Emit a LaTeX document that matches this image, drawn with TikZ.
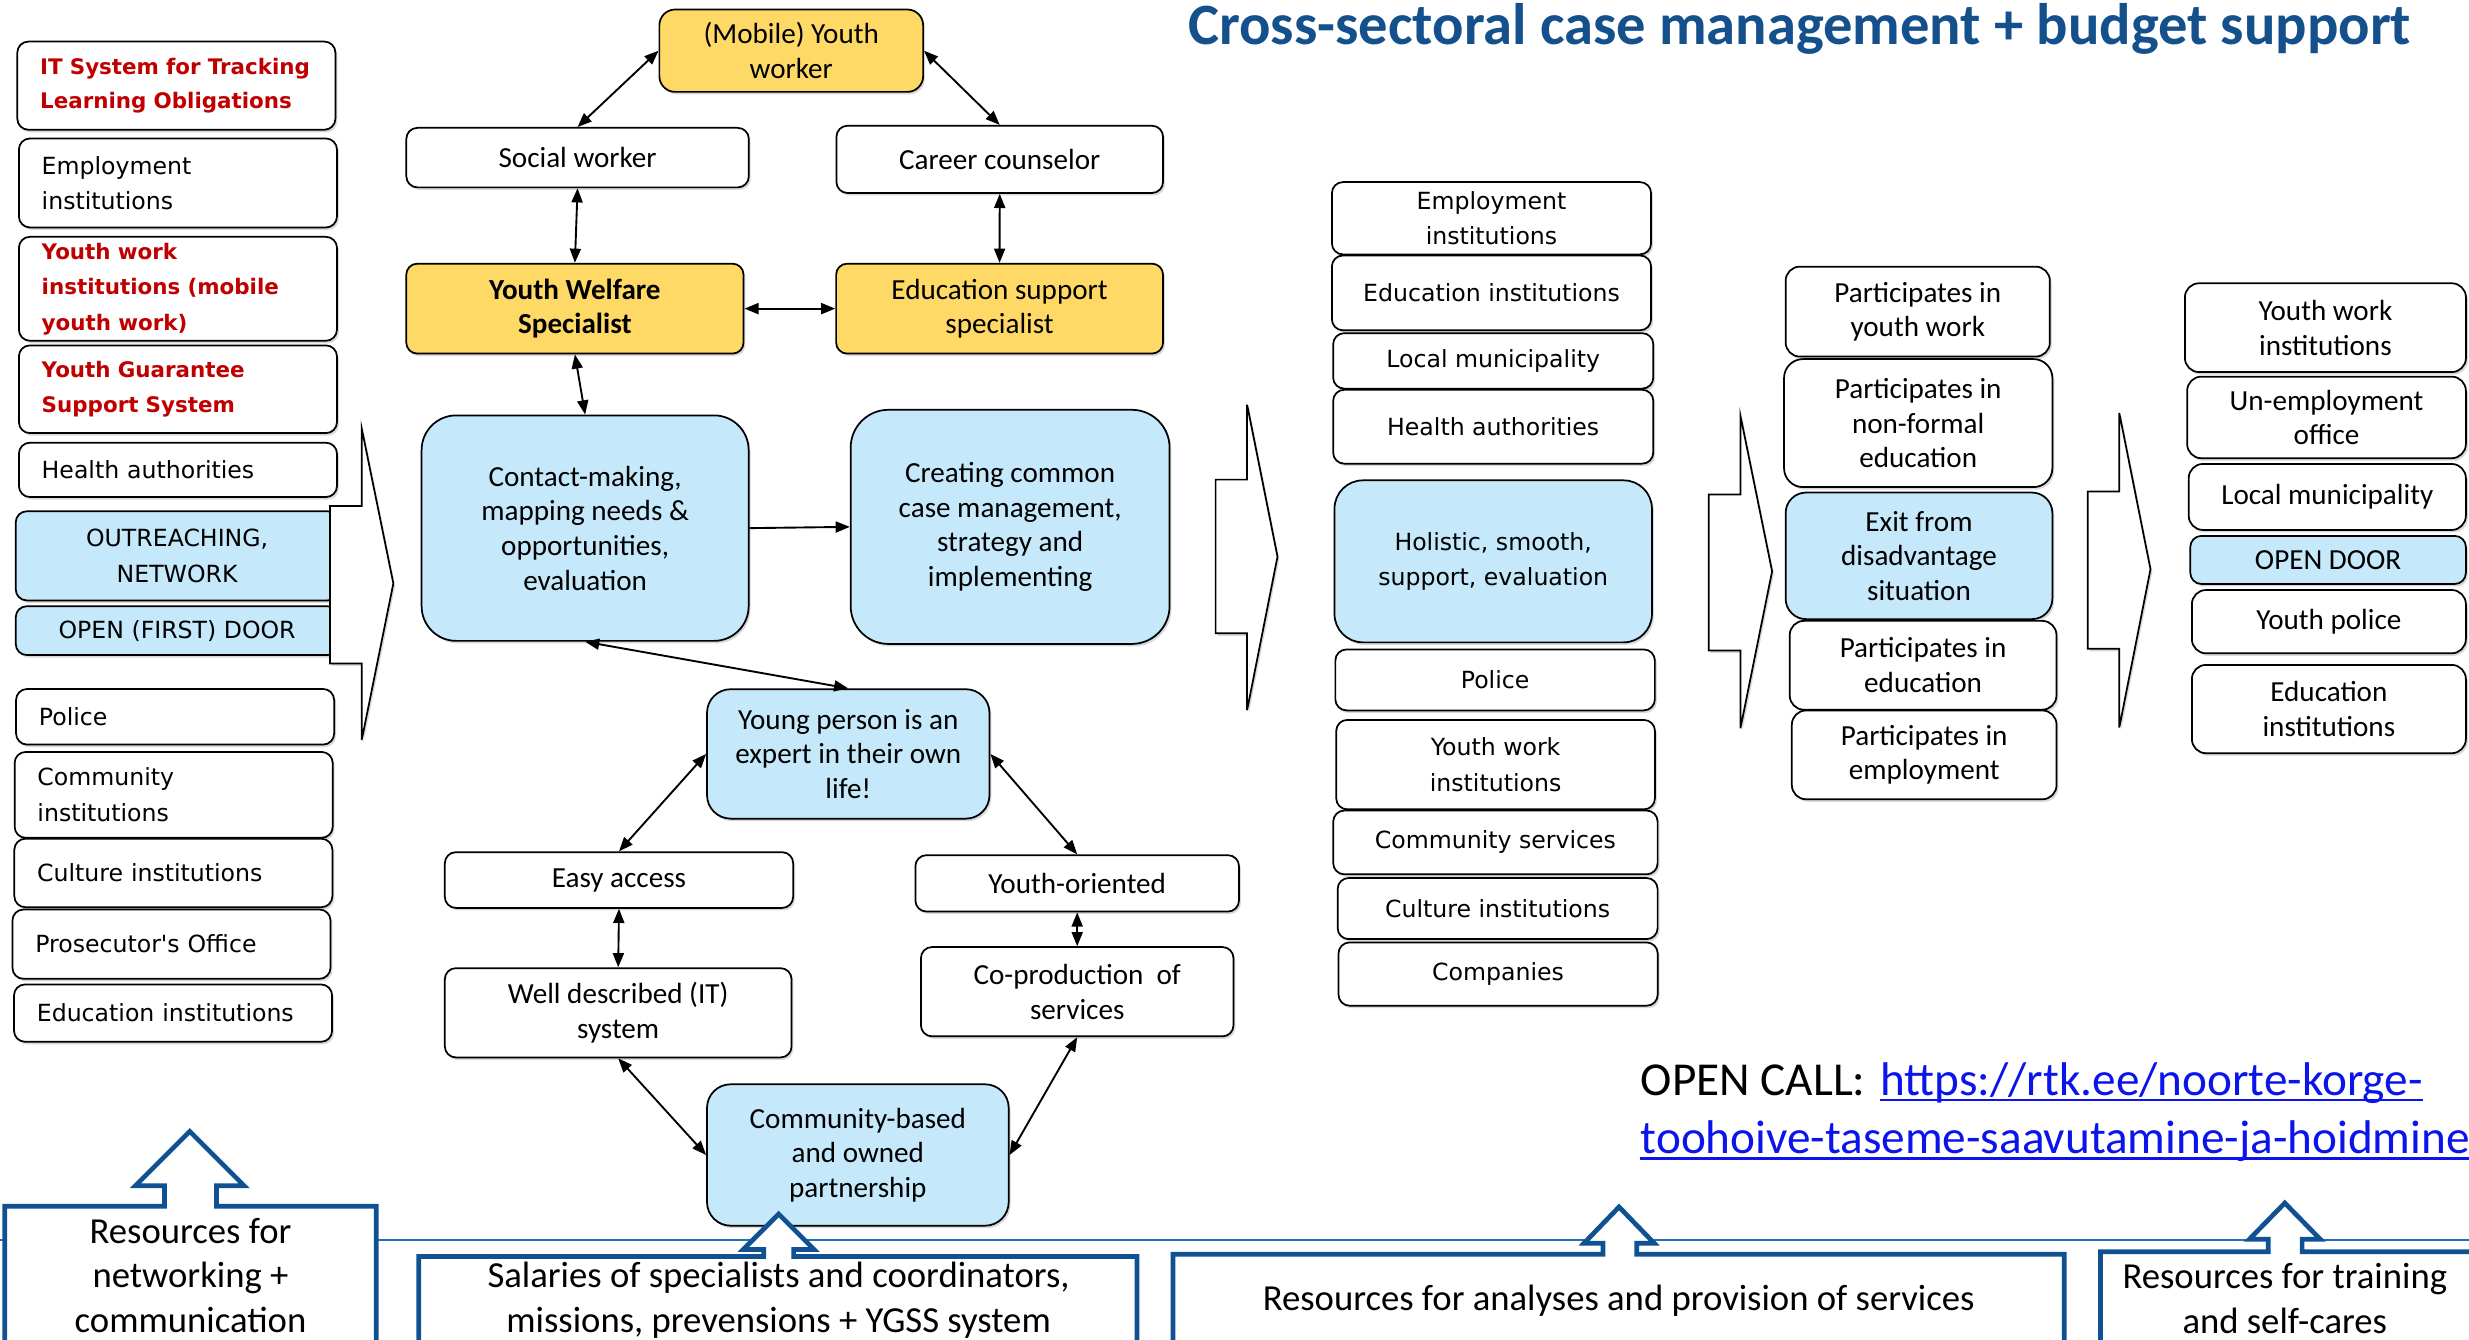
\documentclass[tikz,border=0pt]{standalone}
\usepackage{fontspec}
\setmainfont{Carlito}
\newfontfamily\verd{DejaVu Sans}
\usetikzlibrary{arrows.meta,shadows}
\definecolor{yfill}{RGB}{255,217,102}
\definecolor{bfill}{RGB}{197,233,250}
\definecolor{redtxt}{RGB}{192,0,0}
\definecolor{titleblue}{RGB}{20,80,140}
\definecolor{resblue}{RGB}{16,82,145}
\definecolor{lineblue}{RGB}{40,110,180}
\definecolor{linkblue}{RGB}{10,20,235}
\newcommand\mycal{\fontsize{18.5}{22}\selectfont}
\newcommand\myverd{\verd\fontsize{15}{22.5}\selectfont}
\newcommand\myred{\verd\bfseries\fontsize{13.6}{22}\selectfont}
\newcommand\myres{\fontsize{23.3}{28.5}\selectfont}
\tikzset{
  shad/.style={drop shadow={shadow xshift=1.2pt,shadow yshift=-1.6pt,opacity=0.3}},
  basebox/.style={draw=black,line width=1.1pt,rounded corners=7pt,inner sep=0pt,align=center,shad},
  wbox/.style={basebox,fill=white},
  ybox/.style={basebox,fill=yfill},
  bbox/.style={basebox,fill=bfill},
  lbox/.style={basebox,fill=white,align=left,inner xsep=14.5pt,inner ysep=0pt,text width=173pt},
  cf/.style={font=\mycal},
  vf/.style={font=\myverd},
  rf/.style={font=\myred,text=redtxt},
  dbl/.style={{Triangle[length=9pt,width=7pt]}-{Triangle[length=9pt,width=7pt]},line width=1.2pt},
  sgl/.style={-{Triangle[length=9pt,width=7pt]},line width=1.2pt},
  bigarrow/.style={draw=black,line width=1.1pt,fill=white,line join=miter,shad},
  resframe/.style={draw=resblue,line width=3pt,fill=white,line join=miter},
  restext/.style={font=\myres,align=center,inner sep=0pt},
}
\begin{document}
\begin{tikzpicture}[x=1pt,y=-1pt]
\useasboundingbox (0,0) rectangle (1568,851);
\fill[white] (0,0) rectangle (1568,851);

% title
\node[anchor=base west,inner sep=0pt,text=titleblue,font=\bfseries\fontsize{37.2}{44}\selectfont] (title) at (754.4,28) {Cross-sectoral case management + budget support};

% horizontal line
\draw[lineblue,line width=1.2pt] (0,787.5) -- (1568,787.5);

% left column
\node[lbox,rf,minimum height=56pt] (L1) at (112,54.4) {\mbox{IT System for Tracking}\\\mbox{Learning Obligations}};
\node[lbox,vf,minimum height=56.5pt] (L2) at (113,116.2) {Employment\\institutions};
\node[lbox,rf,minimum height=66pt,font=\verd\bfseries\fontsize{13.6}{22.5}\selectfont] (L3) at (113,183.4) {Youth work\\\mbox{institutions (mobile}\\youth work)};
\node[lbox,rf,minimum height=55.7pt] (L4) at (113,247.2) {Youth Guarantee\\Support System};
\node[lbox,vf,minimum height=34.5pt] (L5) at (113,298.4) {Health authorities};
\node[bbox,vf,minimum width=205pt,minimum height=56.6pt] (L6) at (112.5,353) {OUTREACHING,\\NETWORK};
\node[bbox,vf,minimum width=205pt,minimum height=31pt] (L7) at (112.5,400.5) {OPEN (FIRST) DOOR};
\node[lbox,vf,minimum height=35.3pt] (L8) at (111.2,455.2) {Police};
\node[lbox,vf,minimum height=54.5pt] (L9) at (110.3,504.8) {Community\\institutions};
\node[lbox,vf,minimum height=43.5pt] (L10) at (110.1,554.4) {Culture institutions};
\node[lbox,vf,minimum height=44pt] (L11) at (108.9,599.6) {Prosecutor\textquotesingle s Office};
\node[lbox,vf,minimum height=36.4pt] (L12) at (109.9,643.4) {Education institutions};

% left big arrow
\draw[bigarrow] (209.6,321.4) -- (229.7,321.4) -- (229.7,272) -- (249.8,370.5) -- (229.7,470) -- (229.7,421.3) -- (209.6,421.3) -- cycle;

% centre network
\node[ybox,cf,rounded corners=10pt,minimum width=167.5pt,minimum height=52.3pt] (myw) at (502.5,32.2) {(Mobile) Youth\\worker};
\node[wbox,cf,minimum width=217.5pt,minimum height=37.8pt] (sw) at (366.8,100.1) {Social worker};
\node[wbox,cf,minimum width=207.4pt,minimum height=42.7pt] (cc) at (634.9,101.2) {Career counselor};
\node[ybox,cf,minimum width=214.2pt,minimum height=57.1pt,font=\mycal\bfseries] (yws) at (365.1,196) {Youth Welfare\\Specialist};
\node[ybox,cf,minimum width=207.6pt,minimum height=57.1pt] (ess) at (634.8,196) {Education support\\specialist};
\node[bbox,cf,rounded corners=22pt,minimum width=207.7pt,minimum height=143.2pt] (contact) at (371.6,335.4) {Contact-making,\\mapping needs \&\\opportunities,\\evaluation};
\node[bbox,cf,rounded corners=24pt,minimum width=202.5pt,minimum height=148.7pt] (creating) at (641.5,334.6) {Creating common\\case management,\\strategy and\\implementing};
\node[bbox,cf,rounded corners=15pt,minimum width=179.4pt,minimum height=82.2pt] (yp) at (538.7,478.8) {Young person is an\\expert in their own\\life!};
\node[wbox,cf,minimum width=221.2pt,minimum height=35.4pt] (ea) at (393.1,558.9) {Easy access};
\node[wbox,cf,minimum width=205.5pt,minimum height=35.8pt] (yo) at (684.1,561) {Youth-oriented};
\node[wbox,cf,minimum width=220.2pt,minimum height=56.7pt] (wd) at (392.6,643.2) {Well described (IT)\\system};
\node[wbox,cf,minimum width=198.5pt,minimum height=56.7pt] (cp) at (684.1,629.8) {Co-production\ \ of\\services};
\node[bbox,cf,rounded corners=15pt,minimum width=191.6pt,minimum height=89.8pt] (cb) at (544.8,733.5) {Community-based\\and owned\\partnership};

\draw[dbl] (sw.north) -- (myw.west);
\draw[dbl] (cc.north) -- (myw.east);
\draw[dbl] (sw.south) -- (yws.north);
\draw[dbl] (cc.south) -- (ess.north);
\draw[dbl] (yws.east) -- (ess.west);
\draw[dbl] (yws.south) -- (contact.north);
\draw[sgl] (contact.east) -- (creating.west);
\draw[dbl] (contact.south) -- (yp.north);
\draw[dbl] (yp.west) -- (ea.north);
\draw[dbl] (yp.east) -- (yo.north);
\draw[dbl] (ea.south) -- (wd.north);
\draw[dbl] (yo.south) -- (cp.north);
\draw[dbl] (wd.south) -- (cb.west);
\draw[dbl] (cp.south) -- (cb.east);

% middle arrow
\draw[bigarrow] (772,304.6) -- (792,304.6) -- (792,257) -- (811.3,353.5) -- (792,451) -- (792,402.2) -- (772,402.2) -- cycle;

% middle column
\node[wbox,vf,minimum width=202.7pt,minimum height=45.9pt,font=\verd\fontsize{15}{22}\selectfont] (m1) at (947.2,138.6) {Employment\\institutions};
\node[wbox,vf,minimum width=202.7pt,minimum height=47.5pt] (m2) at (947.2,186) {Education institutions};
\node[wbox,vf,minimum width=203.3pt,minimum height=35.2pt] (m3) at (948.3,229.2) {Local municipality};
\node[wbox,vf,minimum width=203.3pt,minimum height=46.9pt] (m4) at (948.3,271) {Health authorities};
\node[bbox,vf,rounded corners=18pt,minimum width=201.6pt,minimum height=102.9pt] (m5) at (948.3,356.5) {Holistic, smooth,\\support, evaluation};
\node[wbox,vf,minimum width=202.9pt,minimum height=38.7pt] (m6) at (949.5,431.8) {Police};
\node[wbox,vf,minimum width=202.4pt,minimum height=56.8pt] (m7) at (949.8,485.6) {Youth work\\institutions};
\node[wbox,vf,minimum width=206pt,minimum height=40.5pt] (m8) at (949.7,535) {Community services};
\node[wbox,vf,minimum width=203.2pt,minimum height=38.8pt] (m9) at (951.1,577) {Culture institutions};
\node[wbox,vf,minimum width=202.7pt,minimum height=40.2pt] (m10) at (951.4,618.6) {Companies};

% third arrow
\draw[bigarrow] (1085.1,314) -- (1105.3,314) -- (1105.3,264) -- (1125.4,362.8) -- (1105.3,462.5) -- (1105.3,413.1) -- (1085.1,413.1) -- cycle;

% outcomes column
\node[wbox,cf,rounded corners=9pt,minimum width=167.8pt,minimum height=57.1pt] (r1) at (1217.9,197.9) {Participates in\\youth work};
\node[wbox,cf,rounded corners=12pt,minimum width=170.4pt,minimum height=81.3pt] (r2) at (1218.2,268.7) {Participates in\\non-formal\\education};
\node[bbox,cf,rounded corners=13pt,minimum width=169.4pt,minimum height=80.4pt] (r3) at (1218.7,353) {Exit from\\disadvantage\\situation};
\node[wbox,cf,rounded corners=9pt,minimum width=169.4pt,minimum height=56.4pt] (r4) at (1221.3,422.5) {Participates in\\education};
\node[wbox,cf,rounded corners=9pt,minimum width=168.1pt,minimum height=56.4pt] (r5) at (1222,479.4) {Participates in\\employment};

% fourth arrow
\draw[bigarrow] (1325.8,312.1) -- (1345.9,312.1) -- (1345.9,262.3) -- (1365.7,361.5) -- (1345.9,462) -- (1345.9,412) -- (1325.8,412) -- cycle;

% right column
\node[wbox,cf,rounded corners=9pt,minimum width=178.5pt,minimum height=56.4pt] (q1) at (1476.8,208.1) {Youth work\\institutions};
\node[wbox,cf,rounded corners=9pt,minimum width=177pt,minimum height=51.8pt] (q2) at (1477.5,265.1) {Un-employment\\office};
\node[wbox,cf,rounded corners=9pt,minimum width=176pt,minimum height=41.9pt] (q3) at (1478,315.6) {Local municipality};
\node[bbox,cf,rounded corners=7pt,minimum width=175pt,minimum height=30.5pt] (q4) at (1478.5,355.6) {OPEN DOOR};
\node[wbox,cf,rounded corners=9pt,minimum width=174pt,minimum height=40.2pt] (q5) at (1479,394.8) {Youth police};
\node[wbox,cf,rounded corners=9pt,minimum width=174pt,minimum height=56.1pt] (q6) at (1479,450.3) {Education\\institutions};

% open call
\node[anchor=base west,inner sep=0pt,font=\fontsize{30}{37}\selectfont] (oc) at (1041.8,695.7) {OPEN CALL:};
\node[anchor=base west,inner sep=0pt,font=\fontsize{30}{37}\selectfont,text=linkblue] (lk1) at (1194,695.7) {https://rtk.ee/noorte-korge-};
\node[anchor=base west,inner sep=0pt,font=\fontsize{30}{37}\selectfont,text=linkblue] (lk2) at (1041.8,732.7) {toohoive-taseme-saavutamine-ja-hoidmine};
\draw[linkblue,line width=1.6pt] ([yshift=-3pt]lk1.base west) -- ([yshift=-3pt]lk1.base east);
\draw[linkblue,line width=1.6pt] ([yshift=-3pt]lk2.base west) -- ([yshift=-3pt]lk2.base east);

% bottom resource frames with up arrows
\draw[resframe] (3,870) -- (3,766) -- (104.5,766) -- (104.5,753) -- (86,753) -- (120.5,718.5) -- (155,753) -- (137.5,753) -- (137.5,766) -- (239,766) -- (239,870) -- cycle;
\draw[resframe] (266,870) -- (266,798) -- (485,798) -- (485,793.5) -- (472,793.5) -- (494.5,771) -- (517,793.5) -- (504,793.5) -- (504,798) -- (722,798) -- (722,870) -- cycle;
\draw[resframe] (745,870) -- (745,796.5) -- (1018,796.5) -- (1018,789.5) -- (1006,789.5) -- (1028.2,766.5) -- (1050.5,789.5) -- (1039.5,789.5) -- (1039.5,796.5) -- (1311,796.5) -- (1311,870) -- cycle;
\draw[resframe] (1334,870) -- (1334,795) -- (1440.5,795) -- (1440.5,787) -- (1428.5,787) -- (1451,764) -- (1473.5,787) -- (1462,787) -- (1462,795) -- (1590,795) -- (1590,870) -- cycle;

\node[restext] (res1) at (121,810) {Resources for\\networking +\\communication};
\node[restext] (res2) at (494.5,826) {Salaries of specialists and coordinators,\\missions, prevensions + YGSS system};
\node[restext] (res3) at (1028,826) {Resources for analyses and provision of services};
\node[restext] (res4) at (1451,824.5) {Resources for training\\and self-cares};
\end{tikzpicture}
\end{document}
